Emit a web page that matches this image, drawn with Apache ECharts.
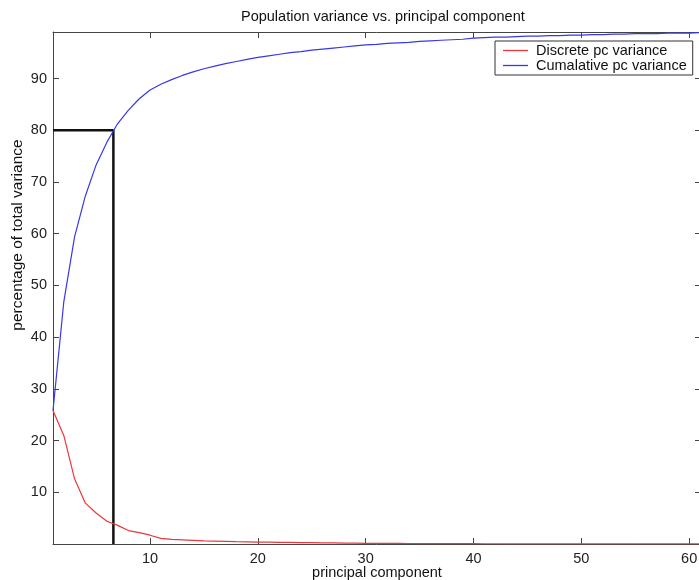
<!DOCTYPE html>
<html>
<head>
<meta charset="utf-8">
<script src="https://cdn.jsdelivr.net/npm/echarts@6/dist/echarts.min.js"></script>
<style>
  html, body { margin: 0; padding: 0; background: #fff; }
  #chart { width: 699px; height: 580px; }
</style>
</head>
<body>
<div id="chart"></div>
<script>
// principal component index 1..61
const components = [];
for (let i = 1; i <= 61; i++) components.push(i);

// (percent)
const discreteVariance = [
    25.8, 21.0, 12.6, 7.9, 6.0, 4.4, 3.6, 2.6, 2.2, 1.7,
    1.1, 0.9, 0.8, 0.7, 0.6, 0.55, 0.5, 0.45, 0.42, 0.38,
    0.35, 0.32, 0.3, 0.27, 0.25, 0.22, 0.2, 0.18, 0.16, 0.14,
    0.13, 0.12, 0.11, 0.1, 0.09, 0.08, 0.07, 0.07, 0.06, 0.06,
    0.05, 0.05, 0.04, 0.04, 0.04, 0.03, 0.03, 0.03, 0.03, 0.02,
    0.02, 0.02, 0.02, 0.02, 0.01, 0.01, 0.01, 0.01, 0.01, 0.01,
    0.01
];
const cumulativeVariance = [
    25.8, 46.8, 59.4, 67.3, 73.3, 77.7, 81.3, 83.9, 86.1, 87.8,
    88.9, 89.8, 90.6, 91.3, 91.9, 92.4, 92.9, 93.3, 93.7, 94.1,
    94.4, 94.7, 95.0, 95.2, 95.5, 95.7, 95.9, 96.1, 96.3, 96.5,
    96.6, 96.8, 96.9, 97.0, 97.2, 97.3, 97.4, 97.5, 97.6, 97.8,
    97.9, 98.0, 98.0, 98.1, 98.2, 98.2, 98.3, 98.3, 98.4, 98.4,
    98.5, 98.5, 98.6, 98.6, 98.7, 98.7, 98.7, 98.8, 98.8, 98.8,
    98.9
];
// 80% cut-off marker
const cutoffX = [1, 6.6, 6.6];
const cutoffY = [80, 80, 0];

const xTicks = [10, 20, 30, 40, 50, 60];

const font = 'Liberation Sans, Arial, sans-serif';
const axisColor = '#444';

const pairs = (xs, ys) => xs.map((x, i) => [x, ys[i]]);

const chart = echarts.init(document.getElementById('chart'));

const option = {
    backgroundColor: '#fff',
    animation: false,
    title: {
        text: 'Population variance vs. principal component',
        left: 236,
        top: 4,
        textStyle: { fontFamily: font, fontSize: 14.5, fontWeight: 'normal', color: '#111' }
    },
    legend: {
        orient: 'vertical',
        left: 495,
        top: 41,
        padding: [2, 6, 2, 8],
        icon: 'rect',
        itemWidth: 25,
        itemHeight: 1.3,
        itemGap: 0,
        borderColor: '#333',
        borderWidth: 1,
        backgroundColor: '#fff',
        textStyle: { fontFamily: font, fontSize: 14.5, lineHeight: 15, color: '#111', padding: [0, 0, 0, 3] },
        data: ['Discrete pc variance', 'Cumalative pc variance']
    },
    graphic: [{
        type: 'text',
        x: 18,
        y: 235,
        rotation: Math.PI / 2,
        style: {
            text: 'percentage of total variance',
            fontFamily: font,
            fontSize: 15.5,
            fill: '#111',
            align: 'center',
            verticalAlign: 'middle'
        }
    }],
    grid: { left: 53, top: 32, width: 648, bottom: 36, outerBoundsMode: 'none' },
    xAxis: [{
        type: 'value',
        min: 1,
        max: 61.1,
        name: 'principal component',
        nameLocation: 'middle',
        nameGap: 21,
        nameMoveOverlap: false,
        nameTextStyle: { fontFamily: font, fontSize: 14.5, color: '#111' },
        axisLine: { onZero: false, lineStyle: { color: axisColor } },
        axisTick: { inside: true, length: 6, customValues: xTicks, lineStyle: { color: axisColor } },
        axisLabel: { customValues: xTicks, margin: 7, fontFamily: font, fontSize: 14.5, color: '#222' },
        splitLine: { show: false }
    }, {
        type: 'value',
        position: 'top',
        min: 1,
        max: 61.1,
        axisLine: { onZero: false, lineStyle: { color: axisColor } },
        axisTick: { inside: true, length: 6, customValues: xTicks, lineStyle: { color: axisColor } },
        axisLabel: { show: false },
        splitLine: { show: false }
    }],
    yAxis: [{
        type: 'value',
        min: 0,
        max: 99,
        interval: 10,
        axisLine: { show: true, onZero: false, lineStyle: { color: axisColor } },
        axisTick: { show: true, inside: true, length: 6, lineStyle: { color: axisColor } },
        axisLabel: { showMinLabel: false, showMaxLabel: false, margin: 6, fontFamily: font, fontSize: 14.5, color: '#222' },
        splitLine: { show: false }
    }, {
        type: 'value',
        position: 'right',
        min: 0,
        max: 99,
        interval: 10,
        axisLine: { show: true, onZero: false, lineStyle: { color: axisColor } },
        axisTick: { show: true, inside: true, length: 6, lineStyle: { color: axisColor } },
        axisLabel: { show: false },
        splitLine: { show: false }
    }],
    series: [{
        name: '80% cut-off',
        type: 'line',
        data: pairs(cutoffX, cutoffY),
        symbol: 'none',
        lineStyle: { color: '#111', width: 2.5 },
        z: 1
    }, {
        name: 'Discrete pc variance',
        type: 'line',
        data: pairs(components, discreteVariance),
        symbol: 'none',
        color: '#e8383c',
        lineStyle: { color: '#e8383c', width: 1.2 },
        z: 2
    }, {
        name: 'Cumalative pc variance',
        type: 'line',
        data: pairs(components, cumulativeVariance),
        symbol: 'none',
        color: '#3838e8',
        lineStyle: { color: '#3838e8', width: 1.2 },
        z: 3
    }]
};

chart.setOption(option);
</script>
</body>
</html>
